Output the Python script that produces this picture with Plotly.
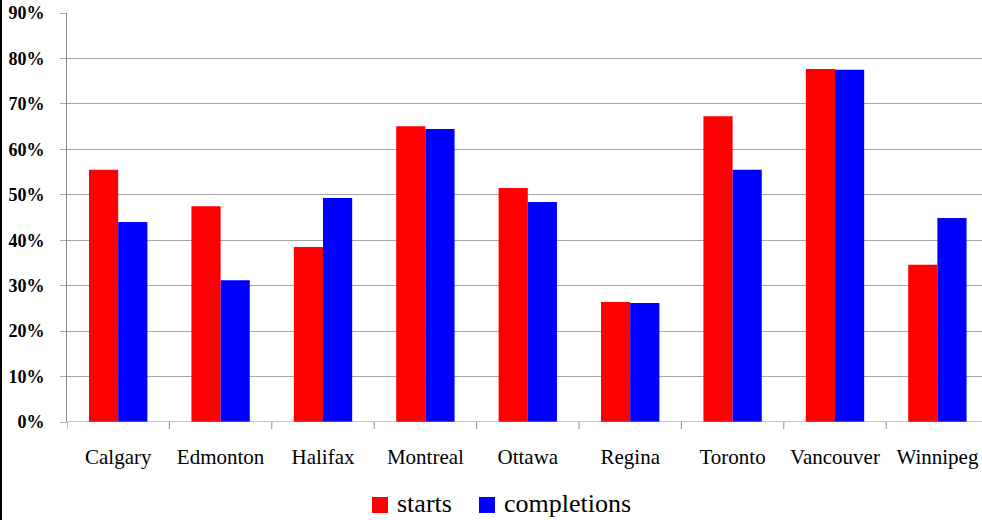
import plotly.graph_objects as go

cities = ["Calgary", "Edmonton", "Halifax", "Montreal", "Ottawa",
          "Regina", "Toronto", "Vancouver", "Winnipeg"]
starts = [55.5, 47.5, 38.5, 65.1, 51.5, 26.4, 67.3, 77.7, 34.6]
completions = [44.0, 31.2, 49.3, 64.5, 48.4, 26.2, 55.5, 77.5, 44.9]
series_names = ["starts", "completions"]
series_colors = ["#ff0000", "#0000ff"]
y_ticks = [0, 10, 20, 30, 40, 50, 60, 70, 80, 90]
y_labels = [f"{v}%" for v in y_ticks]

serif = "Liberation Serif, Times New Roman, serif"

W, H = 982, 520
L, R, T, B = 67, 0, 13, 98
plot_w = W - L - R
plot_h = H - T - B


def px_x(p):
    return (p - L) / plot_w


def px_y(p):
    return (H - B - p) / plot_h


fig = go.Figure()
for name, vals, col in zip(series_names, [starts, completions], series_colors):
    fig.add_trace(go.Bar(x=cities, y=vals, name=name, showlegend=False,
                         marker=dict(color=col, line=dict(width=0))))

# category axis: each slot is ~102.4 px wide, last slot runs off the right edge
slot = 102.4
right_val = -0.5 + plot_w / slot

fig.update_layout(
    width=W, height=H,
    margin=dict(l=L, r=R, t=T, b=B, autoexpand=False),
    paper_bgcolor="white", plot_bgcolor="white",
    barmode="group", bargap=0.43, bargroupgap=0,
    font=dict(family=serif, color="black"),
    xaxis=dict(
        range=[-0.5, right_val],
        showgrid=False, showline=False, zeroline=False,
        ticks="", tickfont=dict(size=21, family=serif, color="black"),
        ticklabelstandoff=20,
    ),
    yaxis=dict(
        range=[0, 90], tickvals=y_ticks, ticktext=y_labels,
        showgrid=True, gridcolor="#a6a6a6", gridwidth=1,
        showline=True, linecolor="#8c8c8c", linewidth=1,
        zeroline=False,
        ticks="outside", ticklen=6, tickcolor="#a6a6a6",
        tickfont=dict(size=18, family=serif, weight="bold", color="black"),
        ticklabelstandoff=12,
    ),
    showlegend=False,
)

shapes = []
# baseline
shapes.append(dict(type="line", xref="x", yref="y", x0=-0.5, x1=right_val,
                   y0=0, y1=0, line=dict(color="#8c8c8c", width=1)))
# category boundary tick marks below the baseline
for i in range(len(cities)):
    xv = i - 0.5
    shapes.append(dict(type="line", xref="x", yref="paper", x0=xv, x1=xv,
                       y0=0, y1=px_y(H - B + 7), line=dict(color="#8c8c8c", width=1)))
# black rule along the left edge of the page
shapes.append(dict(type="line", xref="paper", yref="paper",
                   x0=px_x(1), x1=px_x(1), y0=px_y(H), y1=px_y(0),
                   line=dict(color="black", width=2)))

# legend: coloured squares with labels beside them
legend_items = [(372, 395), (479, 502)]
annotations = []
for (sq_x, tx_x), name, col in zip(legend_items, series_names, series_colors):
    shapes.append(dict(type="rect", xref="paper", yref="paper",
                       x0=px_x(sq_x), x1=px_x(sq_x + 16),
                       y0=px_y(497), y1=px_y(513),
                       fillcolor=col, line=dict(width=0)))
    annotations.append(dict(xref="paper", yref="paper", x=px_x(tx_x), y=px_y(503),
                            text=name, showarrow=False, xanchor="left",
                            yanchor="middle",
                            font=dict(size=26, family=serif, color="black")))

fig.update_layout(shapes=shapes, annotations=annotations)

fig.write_html("out.html")
